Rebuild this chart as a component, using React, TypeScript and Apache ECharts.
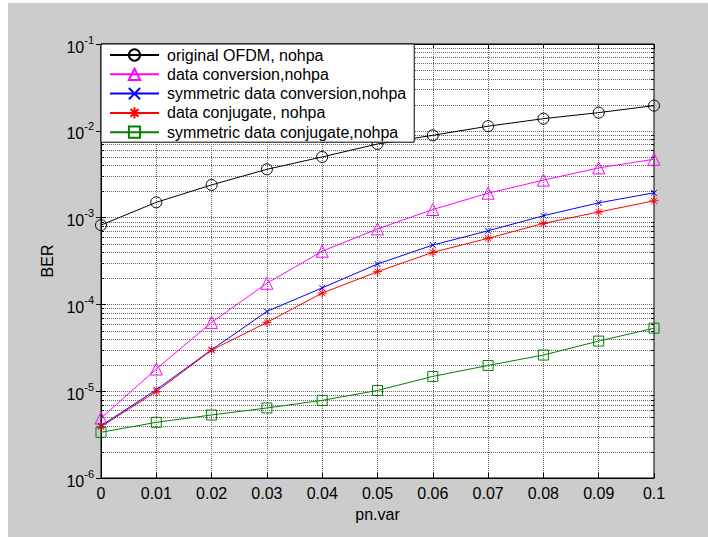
import React, { useEffect, useRef } from 'react';
import * as echarts from 'echarts';

const pnVar = [0, 0.01, 0.02, 0.03, 0.04, 0.05, 0.06, 0.07, 0.08, 0.09, 0.1];
const seriesNames = [
  'original OFDM, nohpa',
  'data conversion,nohpa',
  'symmetric data conversion,nohpa',
  'data conjugate, nohpa',
  'symmetric data conjugate,nohpa',
];
const originalOFDM = [8.2e-4, 1.5e-3, 2.38e-3, 3.6e-3, 5.0e-3, 7.05e-3, 8.87e-3, 1.13e-2, 1.38e-2, 1.62e-2, 1.95e-2];
const dataConversion = [4.9e-6, 1.8e-5, 6.2e-5, 1.75e-4, 4.1e-4, 7.4e-4, 1.24e-3, 1.91e-3, 2.7e-3, 3.74e-3, 4.7e-3];
const symConversion = [4.0e-6, 1.04e-5, 3.0e-5, 8.3e-5, 1.55e-4, 2.92e-4, 4.83e-4, 7.05e-4, 1.05e-3, 1.48e-3, 1.93e-3];
const dataConjugate = [3.9e-6, 9.9e-6, 2.97e-5, 6.2e-5, 1.35e-4, 2.38e-4, 3.98e-4, 5.77e-4, 8.57e-4, 1.16e-3, 1.56e-3];
const symConjugate = [3.36e-6, 4.38e-6, 5.32e-6, 6.41e-6, 7.84e-6, 1.02e-5, 1.48e-5, 1.98e-5, 2.61e-5, 3.78e-5, 5.32e-5];

const decadeExponents = [-6, -5, -4, -3, -2];
const minorMultipliers = [2, 3, 4, 5, 6, 7, 8, 9];
const minorValues: number[] = [];
decadeExponents.forEach((e) => minorMultipliers.forEach((m) => minorValues.push(m * Math.pow(10, e))));

const FONT = 'Liberation Sans, Arial, sans-serif';
const GRID_COLOR = '#666';

export default function App() {
  const ref = useRef<HTMLDivElement>(null);
  useEffect(() => {
    document.body.style.margin = '0';
    const chart = echarts.init(ref.current!, undefined, { renderer: 'svg' });
    const mk = (arr: number[]) => pnVar.map((x, i) => [x, arr[i]]);
    const lineSeries = (
      name: string,
      arr: number[],
      color: string,
      symbol: string,
      symbolSize: number
    ) => ({
      type: 'line',
      name,
      data: mk(arr),
      symbol,
      symbolSize,
      showAllSymbol: true,
      lineStyle: { color, width: 1 },
      itemStyle: { color: 'transparent', borderColor: color, borderWidth: 1 },
      emphasis: { disabled: true },
      z: 3,
    });
    const option: any = {
      animation: false,
      backgroundColor: '#cccccc',
      textStyle: { fontFamily: FONT },
      grid: {
        left: 93,
        top: 41,
        width: 553,
        height: 434,
        show: true,
        backgroundColor: '#fff',
        borderColor: '#000',
        borderWidth: 1,
      },
      legend: {
        data: seriesNames,
        orient: 'vertical',
        left: 93,
        top: 41,
        padding: [3, 8, 2, 8],
        itemWidth: 49,
        itemHeight: 14,
        itemGap: 3.3,
        backgroundColor: '#fff',
        borderColor: '#000',
        borderWidth: 1,
        borderRadius: 0,
        textStyle: { fontSize: 16, lineHeight: 14, color: '#000', fontFamily: FONT, padding: [0, 0, 0, 3] },
        selectedMode: false,
      },
      xAxis: [
        {
          type: 'value',
          min: 0,
          max: 0.1,
          interval: 0.01,
          name: 'pn.var',
          nameLocation: 'middle',
          nameGap: 28,
          nameTextStyle: { fontSize: 16, color: '#000', fontFamily: FONT },
          axisLine: { show: true, lineStyle: { color: '#000' } },
          axisTick: { show: true, inside: true, length: 5, lineStyle: { color: '#000' } },
          axisLabel: {
            margin: 7,
            fontSize: 16,
            color: '#000',
            fontFamily: FONT,
            formatter: (v: number) => String(Math.round(v * 100) / 100),
          },
          splitLine: { show: true, lineStyle: { color: GRID_COLOR, type: [1, 1] } },
        },
        {
          type: 'value',
          position: 'top',
          min: 0,
          max: 0.1,
          interval: 0.01,
          axisLine: { show: true, lineStyle: { color: '#000' } },
          axisTick: { show: true, inside: true, length: 5, lineStyle: { color: '#000' } },
          axisLabel: { show: false },
          splitLine: { show: false },
        },
      ],
      yAxis: [
        {
          type: 'log',
          logBase: 10,
          min: 1e-6,
          max: 1e-1,
          name: 'BER',
          nameLocation: 'middle',
          nameGap: 45,
          nameTextStyle: { fontSize: 16, color: '#000', fontFamily: FONT },
          axisLine: { show: true, lineStyle: { color: '#000' } },
          axisTick: { show: true, inside: true, length: 5, lineStyle: { color: '#000' } },
          axisLabel: {
            margin: 7,
            padding: [16, 0, 0, 0],
            formatter: (v: number) => `{b|10}{s|${Math.round(Math.log10(v))}}`,
            rich: {
              b: {
                fontSize: 16,
                lineHeight: 16,
                color: '#000',
                fontFamily: FONT,
                verticalAlign: 'bottom',
                padding: [0, 0, 5, 0],
              },
              s: {
                fontSize: 11,
                lineHeight: 11,
                color: '#000',
                fontFamily: FONT,
                verticalAlign: 'bottom',
                padding: [0, 0, 15, 0],
              },
            },
          },
          splitLine: { show: true, lineStyle: { color: GRID_COLOR, type: [1, 1] } },
        },
        {
          type: 'log',
          logBase: 10,
          min: 1e-6,
          max: 1e-1,
          position: 'right',
          axisLine: { show: true, lineStyle: { color: '#000' } },
          axisTick: { show: true, inside: true, length: 5, lineStyle: { color: '#000' } },
          axisLabel: { show: false },
          splitLine: { show: false },
        },
      ],
      series: [
        {
          type: 'custom',
          silent: true,
          z: 1,
          data: minorValues.map((v) => [0, v]),
          encode: { x: 0, y: 1 },
          clip: true,
          renderItem: (params: any, api: any) => {
            const v = api.value(1);
            const pt = api.coord([0, v]);
            const cs = params.coordSys;
            const y = Math.round(pt[1]) + 0.5;
            return {
              type: 'group',
              children: [
                {
                  type: 'line',
                  shape: { x1: cs.x, y1: y, x2: cs.x + cs.width, y2: y },
                  style: { stroke: GRID_COLOR, lineWidth: 1, lineDash: [1, 1] },
                },
                {
                  type: 'line',
                  shape: { x1: cs.x, y1: y, x2: cs.x + 3, y2: y },
                  style: { stroke: '#000', lineWidth: 1 },
                },
                {
                  type: 'line',
                  shape: { x1: cs.x + cs.width - 3, y1: y, x2: cs.x + cs.width, y2: y },
                  style: { stroke: '#000', lineWidth: 1 },
                },
              ],
            };
          },
        },
        lineSeries(seriesNames[0], originalOFDM, '#000000', 'circle', 11),
        lineSeries(seriesNames[1], dataConversion, '#ff00ff', 'triangle', 12),
        lineSeries(seriesNames[2], symConversion, '#0000ff', 'path://M0,0L10,10M0,10L10,0', 6),
        lineSeries(
          seriesNames[3],
          dataConjugate,
          '#ff0000',
          'path://M5,0L5,10M0,5L10,5M1.5,1.5L8.5,8.5M1.5,8.5L8.5,1.5',
          9
        ),
        lineSeries(seriesNames[4], symConjugate, '#008000', 'rect', 10),
      ],
    };
    chart.setOption(option);
    return () => chart.dispose();
  }, []);
  return (
    <div style={{ position: 'relative', width: 708, height: 537, background: '#fff' }}>
      <div ref={ref} style={{ position: 'absolute', left: 8, top: 3, width: 700, height: 534 }} />
    </div>
  );
}
